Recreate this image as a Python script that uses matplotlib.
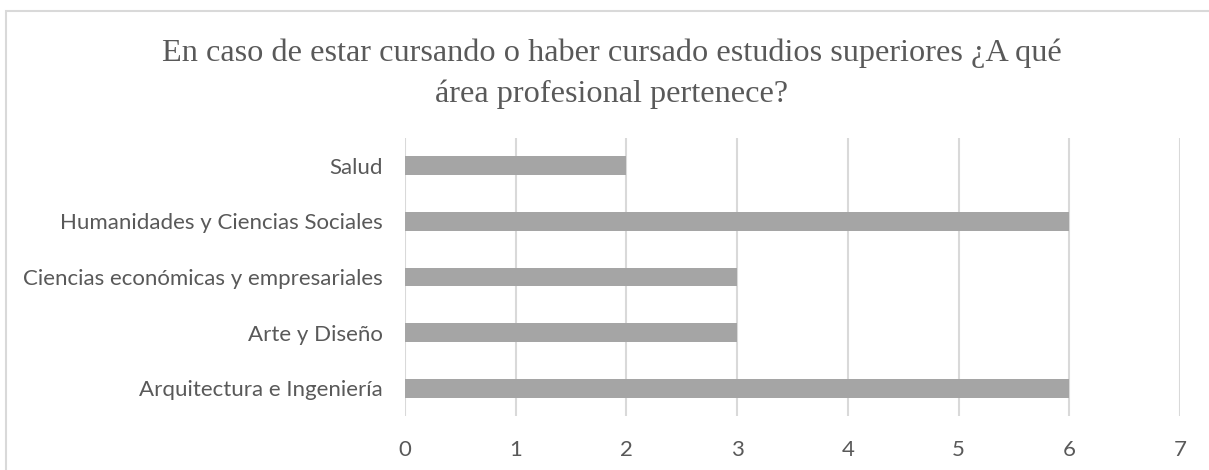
import matplotlib
matplotlib.use("Agg")
import matplotlib.pyplot as plt
import numpy as np

# Areas and number of answers
areas = ["Arquitectura e Ingeniería", "Arte y Diseño",
         "Ciencias económicas y empresariales",
         "Humanidades y Ciencias Sociales", "Salud"]
counts = [6, 3, 3, 6, 2]
xticks = [0, 1, 2, 3, 4, 5, 6, 7]

title = ("En caso de estar cursando o haber cursado estudios superiores ¿A qué\n"
         "área profesional pertenece?")

text_color = "#595959"
grid_color = "#D9D9D9"
bar_color = "#A5A5A5"

fig = plt.figure(figsize=(12.09, 4.70), dpi=100)
ax = fig.add_axes([405 / 1209, 1 - 416 / 470, (1180 - 405) / 1209, (416 - 138) / 470])

y = np.arange(len(areas))
ax.barh(y, counts, height=0.34, color=bar_color, zorder=3)

ax.set_xlim(0, 7)
ax.set_ylim(-0.5, len(areas) - 0.5)
ax.set_xticks(xticks)
ax.set_yticks(y)
ax.set_yticklabels(areas)
ax.tick_params(axis="both", length=0, labelsize=16, labelcolor=text_color)
ax.tick_params(axis="y", pad=16)
ax.tick_params(axis="x", pad=17)
for lab in ax.get_xticklabels() + ax.get_yticklabels():
    lab.set_fontfamily("Lato")

ax.grid(axis="x", color=grid_color, linewidth=1.5, zorder=0)
for s in ax.spines.values():
    s.set_visible(False)

fig.text(0.506, 1 - 74 / 470, title, ha="center", va="center",
         fontsize=23.2, family="Liberation Serif", color=text_color,
         linespacing=1.5)

# chart frame
fig.patches.append(plt.Rectangle((6 / 1209, -0.1), 1.2, 1 - 11.5 / 470 + 0.1,
                                 transform=fig.transFigure, fill=False,
                                 edgecolor=grid_color, linewidth=1.5))

fig.savefig("out.png", dpi=100)
